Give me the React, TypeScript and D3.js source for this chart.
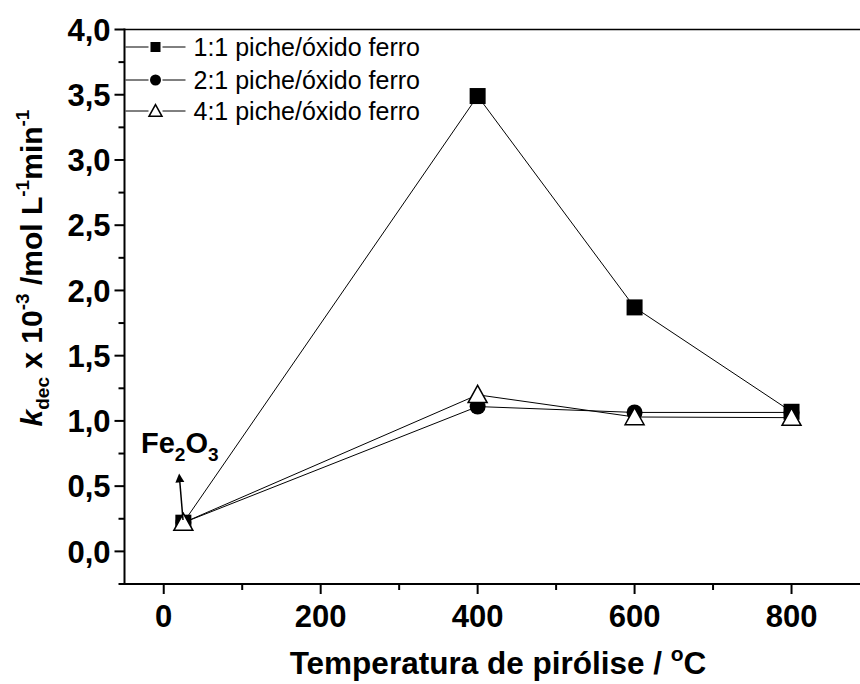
import React from "react";
import * as d3 from "d3";

const temps = [25, 400, 600, 800];
const series11 = [0.22, 3.49, 1.87, 1.07];
const series21 = [0.22, 1.11, 1.065, 1.065];
const series41 = [0.22, 1.2, 1.03, 1.025];
const legendLabels = ["1:1 piche/óxido ferro", "2:1 piche/óxido ferro", "4:1 piche/óxido ferro"];
const xMajor = [0, 200, 400, 600, 800];
const xMinor = [100, 300, 500, 700];
const yMajor = [0, 0.5, 1, 1.5, 2, 2.5, 3, 3.5, 4];
const yMinor = [-0.25, 0.25, 0.75, 1.25, 1.75, 2.25, 2.75, 3.25, 3.75];
const yLabels = ["0,0", "0,5", "1,0", "1,5", "2,0", "2,5", "3,0", "3,5", "4,0"];

const W = 860;
const H = 684;
const FONT = "Liberation Sans, Arial, sans-serif";

export default function App() {
  const x = d3.scaleLinear().domain([-50, 900]).range([124.5, 870]);
  const y = d3.scaleLinear().domain([-0.25, 4.0]).range([584, 29.5]);
  const line = d3
    .line<number>()
    .x((_, i) => x(temps[i]))
    .y((d) => y(d));

  const square = (cx: number, cy: number, s: number, key: string) => (
    <rect key={key} x={cx - s / 2} y={cy - s / 2} width={s} height={s} fill="#000" />
  );
  const circle = (cx: number, cy: number, r: number, key: string) => (
    <circle key={key} cx={cx} cy={cy} r={r} fill="#000" />
  );
  const tri = (cx: number, cy: number, s: number, key: string) => {
    const h = s * 0.9;
    return (
      <path
        key={key}
        d={`M${cx},${cy - h * 0.55} L${cx + s / 2},${cy + h * 0.45} L${cx - s / 2},${cy + h * 0.45} Z`}
        fill="#fff"
        stroke="#000"
        strokeWidth={1.5}
      />
    );
  };

  const legendRows = [47, 80, 111];
  const x0 = x(-50);

  return (
    <svg width={W} height={H} style={{ position: "absolute", left: 0, top: 0, background: "#fff" }} fontFamily={FONT}>
      <defs>
        <marker id="ah" viewBox="0 0 10 10" refX="5" refY="5" markerWidth="6" markerHeight="8" orient="auto">
          <path d="M0,0 L10,5 L0,10 Z" fill="#000" />
        </marker>
      </defs>
      {/* frame */}
      <line x1={x0} x2={W + 10} y1={y(4)} y2={y(4)} stroke="#000" strokeWidth={1.5} />
      <line x1={x0} x2={W + 10} y1={y(-0.25)} y2={y(-0.25)} stroke="#000" strokeWidth={2} />
      <line x1={x0} x2={x0} y1={y(4) - 1} y2={y(-0.25) + 1} stroke="#000" strokeWidth={2} />

      {/* y ticks */}
      {yMajor.map((v, i) => (
        <g key={"ym" + v}>
          <line x1={x0 - 10} x2={x0} y1={y(v)} y2={y(v)} stroke="#000" strokeWidth={2} />
          <text x={x0 - 14} y={y(v)} dy="0.36em" textAnchor="end" fontSize={31} fontWeight="bold">
            {yLabels[i]}
          </text>
        </g>
      ))}
      {yMinor.map((v) => (
        <line key={"yn" + v} x1={x0 - 6} x2={x0} y1={y(v)} y2={y(v)} stroke="#000" strokeWidth={2} />
      ))}
      {/* x ticks */}
      {xMajor.map((v) => (
        <g key={"xm" + v}>
          <line x1={x(v)} x2={x(v)} y1={y(-0.25)} y2={y(-0.25) + 10} stroke="#000" strokeWidth={2} />
          <text x={x(v)} y={627} textAnchor="middle" fontSize={31} fontWeight="bold">
            {v}
          </text>
        </g>
      ))}
      {xMinor.map((v) => (
        <line key={"xn" + v} x1={x(v)} x2={x(v)} y1={y(-0.25)} y2={y(-0.25) + 6} stroke="#000" strokeWidth={2} />
      ))}

      {/* axis titles */}
      <text x={498} y={674} textAnchor="middle" fontSize={31.5} fontWeight="bold">
        Temperatura de pirólise /{" "}
        <tspan fontSize={21} dy={-13}>o</tspan>
        <tspan dy={13}>C</tspan>
      </text>
      <text transform="translate(42,268) rotate(-90)" textAnchor="middle" fontSize={30} fontWeight="bold">
        <tspan fontStyle="italic">k</tspan>
        <tspan fontSize={19} dy={7}>dec</tspan>
        <tspan dy={-7}> x 10</tspan>
        <tspan fontSize={19} dy={-13}>-3</tspan>
        <tspan dy={13}> /mol L</tspan>
        <tspan fontSize={19} dy={-13}>-1</tspan>
        <tspan dy={13}>min</tspan>
        <tspan fontSize={19} dy={-13}>-1</tspan>
      </text>

      {/* series lines */}
      <path d={line(series11) || ""} fill="none" stroke="#000" strokeWidth={1} />
      <path d={line(series21) || ""} fill="none" stroke="#000" strokeWidth={1} />
      <path d={line(series41) || ""} fill="none" stroke="#000" strokeWidth={1} />
      {series11.map((v, i) => square(x(temps[i]), y(v), 16, "s" + i))}
      {series21.map((v, i) => circle(x(temps[i]), y(v), 8, "c" + i))}
      {series41.map((v, i) => tri(x(temps[i]), y(v), 19, "t" + i))}

      {/* annotation */}
      <text x={141} y={453} fontSize={29} fontWeight="bold">
        Fe<tspan fontSize={19} dy={8}>2</tspan>
        <tspan dy={-8}>O</tspan>
        <tspan fontSize={19} dy={8}>3</tspan>
      </text>
      <line x1={183} y1={520} x2={179.5} y2={478} stroke="#000" strokeWidth={1.5} markerEnd="url(#ah)" />

      {/* legend */}
      {legendLabels.map((lab, i) => {
        const ly = legendRows[i];
        return (
          <g key={lab}>
            <line x1={x0 + 1} x2={x0 + 24} y1={ly} y2={ly} stroke="#000" strokeWidth={1} />
            <line x1={x0 + 38} x2={x0 + 61} y1={ly} y2={ly} stroke="#000" strokeWidth={1} />
            {i === 0 && square(x0 + 31, ly, 10, "ls")}
            {i === 1 && circle(x0 + 31, ly, 5.5, "lc")}
            {i === 2 && tri(x0 + 31, ly, 13, "lt")}
            <text x={x0 + 69} y={ly} dy="0.36em" fontSize={25}>
              {lab}
            </text>
          </g>
        );
      })}
    </svg>
  );
}
